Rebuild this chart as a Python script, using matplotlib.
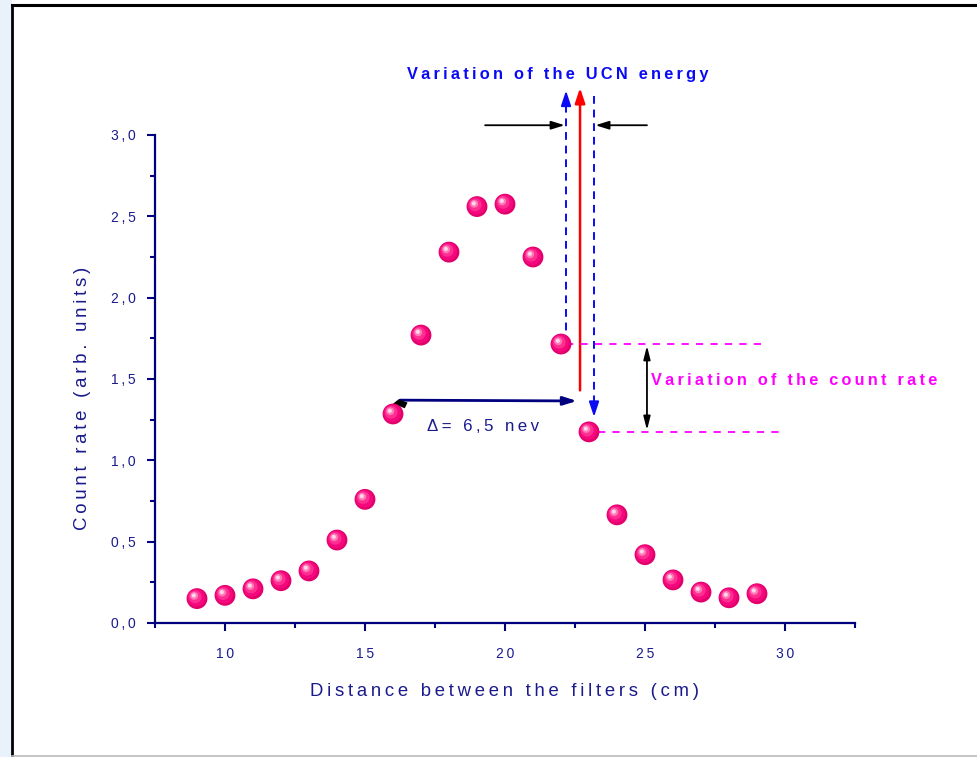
import matplotlib
matplotlib.use("Agg")
import matplotlib.pyplot as plt
from matplotlib.ticker import MultipleLocator, FuncFormatter
from matplotlib.transforms import offset_copy
from matplotlib.patches import Rectangle, Polygon
from matplotlib.lines import Line2D

plt.rcParams['font.family'] = ['Liberation Sans', 'DejaVu Sans']

# Measured count rate versus filter separation
distance_cm = [9, 10, 11, 12, 13, 14, 15, 16, 17, 18, 19, 20, 21, 22, 23, 24, 25, 26, 27, 28, 29]
count_rate = [0.15, 0.17, 0.21, 0.26, 0.32, 0.51, 0.76, 1.285, 1.77, 2.28, 2.56, 2.575,
              2.25, 1.715, 1.175, 0.665, 0.42, 0.265, 0.19, 0.155, 0.18]

x_ticks = [10, 15, 20, 25, 30]
y_ticks = [0.0, 0.5, 1.0, 1.5, 2.0, 2.5, 3.0]

title_text = "Variation of the UCN energy"
rate_text = "Variation of the count rate"
delta_text = "\u0394= 6,5 nev"
xlabel_text = "Distance between the filters (cm)"
ylabel_text = "Count rate (arb. units)"

NAVY = "#1a1a8e"
AXIS = "#00007f"
BLUE = "#0a0af5"
MAGENTA = "#ff00ff"


def spaced(s):
    """Open up the letter spacing with thin spaces."""
    return "\u2009".join(s)


W, H = 978, 757
fig = plt.figure(figsize=(W / 100, H / 100), dpi=100)

# page frame
fig.add_artist(Rectangle((0, 0), 12 / W, 1, transform=fig.transFigure,
                         facecolor="#e9f1fa", edgecolor="none"))
fig.add_artist(Line2D([12.5 / W, 12.5 / W], [0, 1 - 5 / H], transform=fig.transFigure,
                      color="black", lw=2))
fig.add_artist(Line2D([12 / W, 1], [1 - 5 / H, 1 - 5 / H], transform=fig.transFigure,
                      color="black", lw=2.2))
fig.add_artist(Line2D([12 / W, 1], [1 - 756 / H, 1 - 756 / H], transform=fig.transFigure,
                      color="#bbbbbb", lw=1.2))

ax = fig.add_axes([155 / W, (H - 623) / H, 700 / W, 488 / H])
ax.set_xlim(7.5, 32.5)
ax.set_ylim(0, 3.0)
for side in ("top", "right"):
    ax.spines[side].set_visible(False)
for side in ("left", "bottom"):
    ax.spines[side].set_color(AXIS)
    ax.spines[side].set_linewidth(1.6)

ax.set_xticks(x_ticks)
ax.set_yticks(y_ticks)
ax.xaxis.set_minor_locator(MultipleLocator(2.5))
ax.yaxis.set_minor_locator(MultipleLocator(0.25))
ax.xaxis.set_major_formatter(FuncFormatter(lambda v, p: spaced(f"{v:.0f}")))
ax.yaxis.set_major_formatter(FuncFormatter(lambda v, p: spaced(f"{v:.1f}".replace(".", ","))))
ax.tick_params(which="major", direction="out", length=6, width=1.5, color=AXIS,
               labelcolor=NAVY, labelsize=10)
ax.tick_params(which="minor", direction="out", length=3.5, width=1.5, color=AXIS)
ax.tick_params(axis="x", which="major", pad=11)
ax.tick_params(axis="y", which="major", pad=8)

ax.set_xlabel(spaced(xlabel_text), fontsize=13.3, color=NAVY, labelpad=16)
ax.set_ylabel(spaced(ylabel_text), fontsize=13.4, color=NAVY)
ax.yaxis.set_label_coords(-0.092, 0.461)

# shaded spheres for the data points
layers = [
    (225, "#e2006b", 0.0, 0.0),
    (160, "#f5087d", -0.6, 0.6),
    (85, "#ff2f92", -1.3, 1.3),
    (32, "#ff7ab8", -2.0, 2.0),
    (9, "#ffd6ea", -2.3, 2.3),
]
for s, c, dx, dy in layers:
    tr = offset_copy(ax.transData, fig=fig, x=dx, y=dy, units="points")
    ax.scatter(distance_cm, count_rate, s=s, color=c, edgecolors="none",
               transform=tr, zorder=5, clip_on=False)

# energy-variation markers
i22 = distance_cm.index(22)
i23 = distance_cm.index(23)
x_lo = distance_cm[i22] + 0.18
x_hi = distance_cm[i23] + 0.18
y_top = 3.29
dash = (0, (4, 3))

ax.plot([x_lo, x_lo], [count_rate[i22], y_top - 0.12], color=BLUE, lw=1.4,
        linestyle=dash, clip_on=False, zorder=3)
ax.annotate("", xy=(x_lo, y_top), xytext=(x_lo, y_top - 0.13),
            arrowprops=dict(arrowstyle="-|>,head_length=0.9,head_width=0.3", color=BLUE, lw=1.4),
            annotation_clip=False)
ax.plot([x_hi, x_hi], [y_top - 0.05, 1.35], color=BLUE, lw=1.4,
        linestyle=dash, clip_on=False, zorder=3)
ax.annotate("", xy=(x_hi, 1.25), xytext=(x_hi, 1.37),
            arrowprops=dict(arrowstyle="-|>,head_length=0.9,head_width=0.3", color=BLUE, lw=1.4),
            annotation_clip=False)

x_red = distance_cm[i22] + 0.68
ax.annotate("", xy=(x_red, y_top), xytext=(x_red, 1.43),
            arrowprops=dict(arrowstyle="-|>,head_length=0.9,head_width=0.3", color="red", lw=1.8,
                            shrinkA=0, shrinkB=0),
            annotation_clip=False)

y_arr = 3.06
ax.annotate("", xy=(x_lo - 0.05, y_arr), xytext=(19.29, y_arr),
            arrowprops=dict(arrowstyle="-|>,head_length=0.8,head_width=0.25", color="black", lw=1.3,
                            shrinkA=0, shrinkB=0),
            annotation_clip=False)
ax.annotate("", xy=(x_hi + 0.05, y_arr), xytext=(25.07, y_arr),
            arrowprops=dict(arrowstyle="-|>,head_length=0.8,head_width=0.25", color="black", lw=1.3,
                            shrinkA=0, shrinkB=0),
            annotation_clip=False)

ax.text((x_lo + x_hi) / 2 - 0.8, 3.375, spaced(title_text), color=BLUE, fontsize=11.8,
        fontweight="bold", ha="center", va="center")

# count-rate variation markers
ax.plot([x_lo, 29.39], [count_rate[i22], count_rate[i22]], color=MAGENTA, lw=1.3,
        linestyle=(0, (4, 4)), zorder=3)
ax.plot([distance_cm[i23] + 0.32, 29.82], [count_rate[i23], count_rate[i23]], color=MAGENTA,
        lw=1.3, linestyle=(0, (4, 4)), zorder=3)
ax.annotate("", xy=(25.07, count_rate[i22] - 0.01), xytext=(25.07, count_rate[i23] + 0.01),
            arrowprops=dict(arrowstyle="<|-|>,head_length=0.8,head_width=0.2", color="black", lw=1.3,
                            shrinkA=0, shrinkB=0))
ax.text(25.21, 1.49, spaced(rate_text), color=MAGENTA, fontsize=11.7, fontweight="bold",
        ha="left", va="center")

# energy shift arrow
ax.annotate("", xy=(22.57, 1.365), xytext=(16.25, 1.37),
            arrowprops=dict(arrowstyle="-|>,head_length=0.8,head_width=0.25", color=AXIS, lw=2,
                            shrinkA=0, shrinkB=0))
ax.add_patch(Polygon([(16.0, 1.348), (16.2, 1.375), (16.52, 1.355), (16.42, 1.32)],
                     closed=True, facecolor="black", edgecolor="none", zorder=4))
ax.text(19.21, 1.205, spaced(delta_text), color=NAVY, fontsize=12.2, ha="center", va="center")

fig.savefig("out.png", dpi=100)
